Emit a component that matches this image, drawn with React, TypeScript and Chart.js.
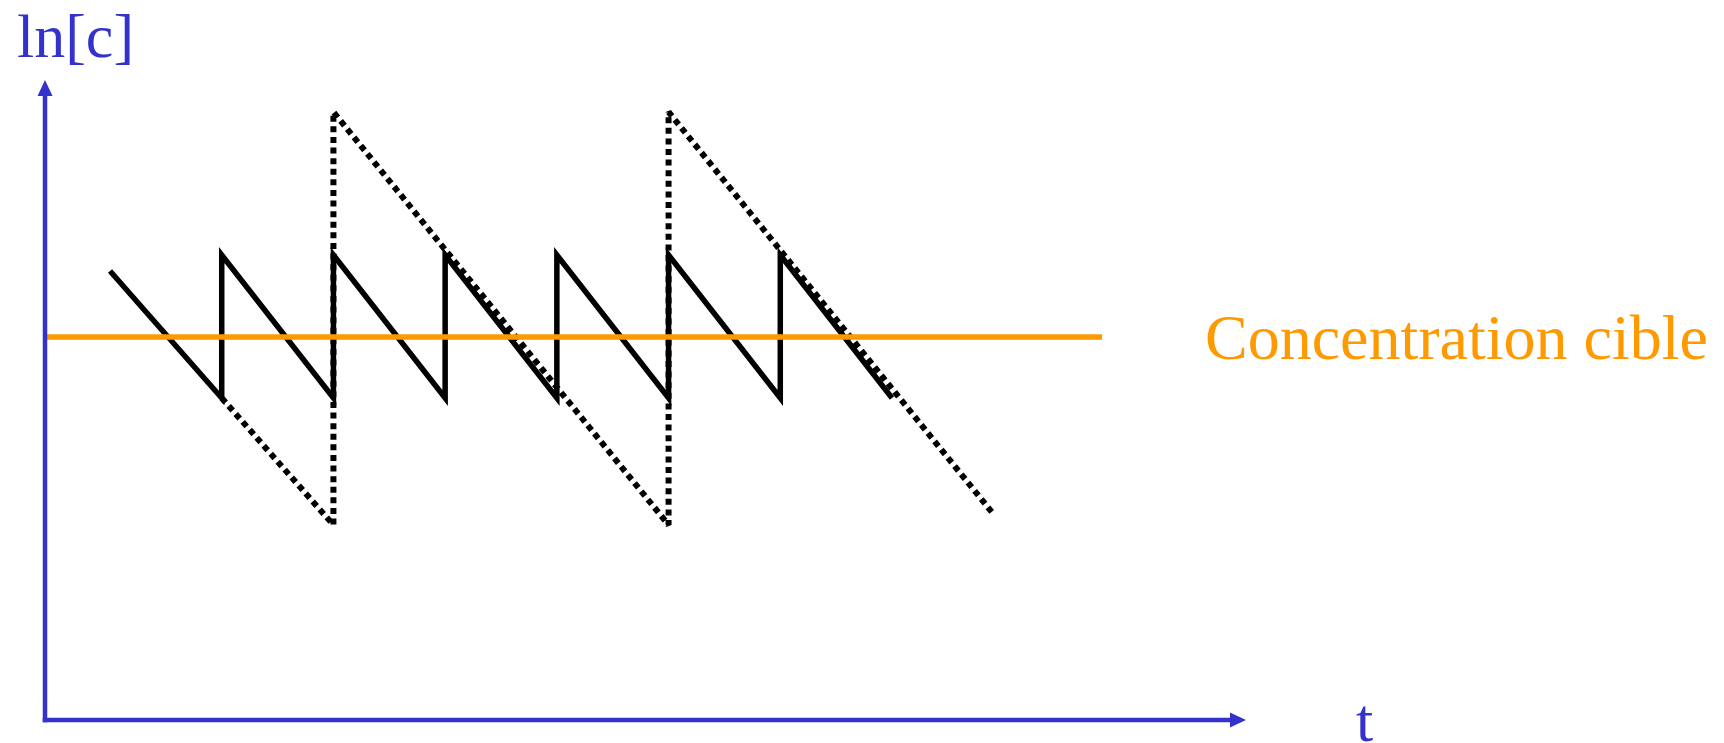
import React, { useEffect, useRef } from "react";
import { Chart, registerables } from "chart.js";

Chart.register(...registerables);

// time axis (dose intervals) and ln[c] values
const solidT = [0, 1, 1, 2, 2, 3, 3, 4, 4, 5, 5, 6, 6, 7];
const solidY = [4.49, 3.22, 4.65, 3.22, 4.65, 3.22, 4.65, 3.22, 4.65, 3.22, 4.65, 3.22, 4.65, 3.22];

const dottedT = [1, 2, 2, 5, 5, 7.9];
const dottedY = [3.22, 1.95, 6.08, 1.95, 6.08, 2.07];

const targetT = [-0.58, 8.88];
const targetY = [3.83, 3.83];

const xRange = [-0.582, 10.169];
const yRange = [0, 6.4];

const yLabel = "ln[c]";
const xLabel = "t";
const targetLabel = "Concentration cible";

const BLUE = "rgb(51,51,204)";
const ORANGE = "rgb(255,153,0)";

const toPts = (xs: number[], ys: number[]) => xs.map((x, i) => ({ x, y: ys[i] }));

const axesPlugin = {
  id: "arrowAxes",
  afterDraw(chart: any) {
    const { ctx, chartArea } = chart;
    const { left, right, top, bottom } = chartArea;
    ctx.save();
    ctx.strokeStyle = BLUE;
    ctx.fillStyle = BLUE;
    ctx.lineWidth = 4.5;
    ctx.lineCap = "butt";
    // vertical axis
    ctx.beginPath();
    ctx.moveTo(left, bottom + 2.25);
    ctx.lineTo(left, top + 14);
    ctx.stroke();
    ctx.beginPath();
    ctx.moveTo(left, top);
    ctx.lineTo(left - 7.5, top + 16);
    ctx.lineTo(left + 7.5, top + 16);
    ctx.closePath();
    ctx.fill();
    // horizontal axis
    ctx.beginPath();
    ctx.moveTo(left - 2.25, bottom);
    ctx.lineTo(right - 14, bottom);
    ctx.stroke();
    ctx.beginPath();
    ctx.moveTo(right, bottom);
    ctx.lineTo(right - 16, bottom - 7.5);
    ctx.lineTo(right - 16, bottom + 7.5);
    ctx.closePath();
    ctx.fill();

    // texts
    ctx.textBaseline = "alphabetic";
    ctx.textAlign = "left";
    ctx.font = '62px "Liberation Serif", "Times New Roman", serif';
    ctx.fillText(yLabel, 17, 57);
    ctx.fillText(xLabel, 1356, 741);

    ctx.fillStyle = ORANGE;
    ctx.font = '64px "Liberation Serif", "Times New Roman", serif';
    ctx.fillText(targetLabel, 1205, 359);
    ctx.restore();
  },
};

export default function App() {
  const ref = useRef<HTMLCanvasElement | null>(null);
  useEffect(() => {
    document.body.style.margin = "0";
    const canvas = ref.current!;
    const chart = new Chart(canvas, {
      type: "line",
      data: {
        datasets: [
          {
            data: toPts(targetT, targetY),
            borderColor: ORANGE,
            borderWidth: 5.5,
            pointRadius: 0,
            borderCapStyle: "butt",
          },
          {
            data: toPts(solidT, solidY),
            borderColor: "#000",
            borderWidth: 5.5,
            pointRadius: 0,
            borderJoinStyle: "miter",
            borderCapStyle: "butt",
          },
          {
            data: toPts(dottedT, dottedY),
            borderColor: "#000",
            borderWidth: 6,
            borderDash: [6, 4.6],
            pointRadius: 0,
            borderJoinStyle: "bevel",
            borderCapStyle: "butt",
          },
        ],
      },
      options: {
        responsive: false,
        animation: false,
        layout: { padding: { left: 45, right: 478, top: 80, bottom: 23 } },
        plugins: { legend: { display: false }, tooltip: { enabled: false } },
        scales: {
          x: { type: "linear", min: xRange[0], max: xRange[1], display: false },
          y: { type: "linear", min: yRange[0], max: yRange[1], display: false },
        },
      },
      plugins: [axesPlugin],
    });
    return () => chart.destroy();
  }, []);
  return (
    <div style={{ width: 1724, height: 743 }}>
      <canvas ref={ref} width={1724} height={743} />
    </div>
  );
}
